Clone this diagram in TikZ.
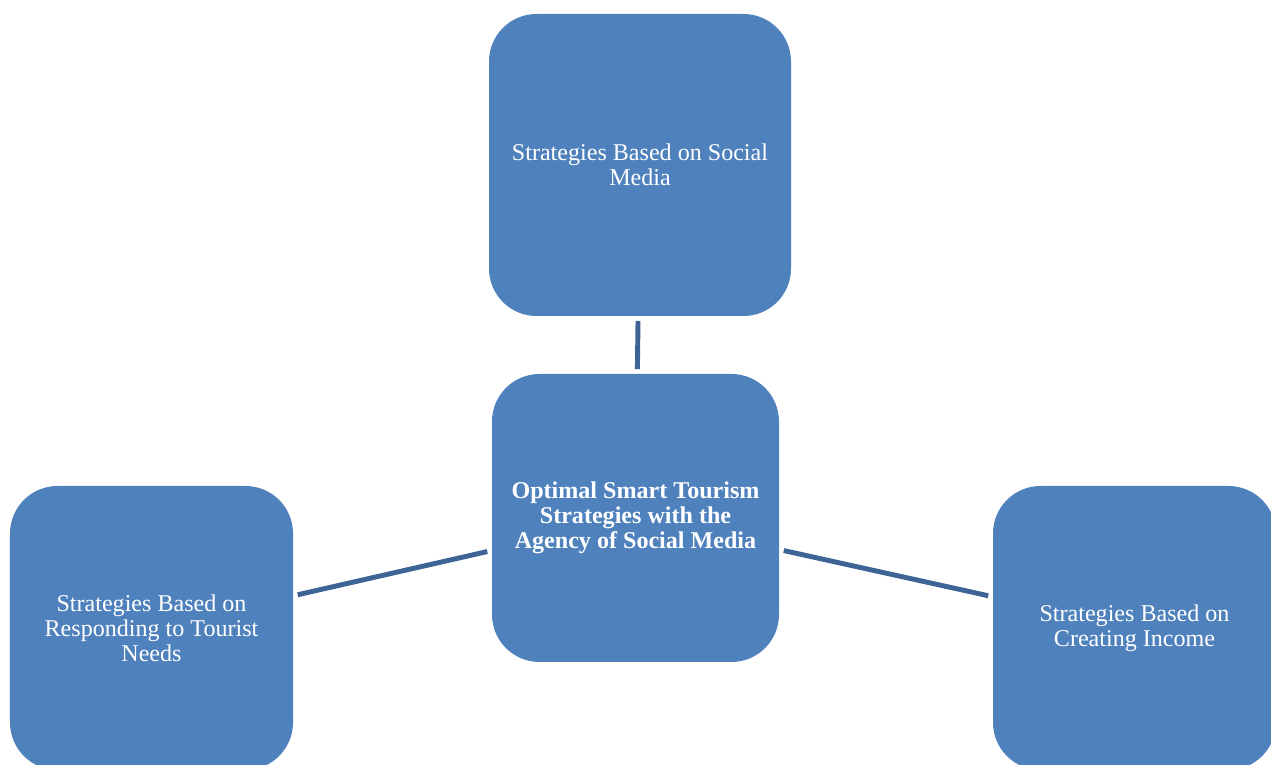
\documentclass[tikz,border=0pt]{standalone}
\usepackage{fontspec}
\setmainfont{Liberation Serif}
\definecolor{boxblue}{RGB}{79,129,189}
\definecolor{linkblue}{RGB}{62,100,150}
\tikzset{stratbox/.style={fill=boxblue, rounded corners=0.95cm, inner sep=0pt,
  text=white, align=center, font=\fontsize{13.7}{14.2}\selectfont},
  link/.style={draw=linkblue, line width=2.8pt, shorten >=0.09cm, shorten <=0.09cm}}

\begin{document}
\begin{tikzpicture}
  \clip (0,0) rectangle (25.42,15.3);
  \node[stratbox, minimum width=6.04cm, minimum height=6.04cm] (social) at (12.8,12.0)
    {Strategies Based on Social\\Media};
  \node[stratbox, minimum width=5.74cm, minimum height=5.76cm] (core) at (12.71,4.94)
    {\bfseries Optimal Smart Tourism\\\bfseries Strategies with the\\\bfseries Agency of Social Media};
  \node[stratbox, minimum width=5.66cm, minimum height=5.68cm] (needs) at (3.03,2.74)
    {Strategies Based on\\Responding to Tourist\\Needs};
  \node[stratbox, minimum width=5.66cm, minimum height=5.68cm] (income) at (22.69,2.74)
    {Strategies Based on\\Creating Income};
  % links to the core
  \draw[link] (social) -- (core);
  \draw[link] (needs) -- (core);
  \draw[link] (income) -- (core);
\end{tikzpicture}
\end{document}
